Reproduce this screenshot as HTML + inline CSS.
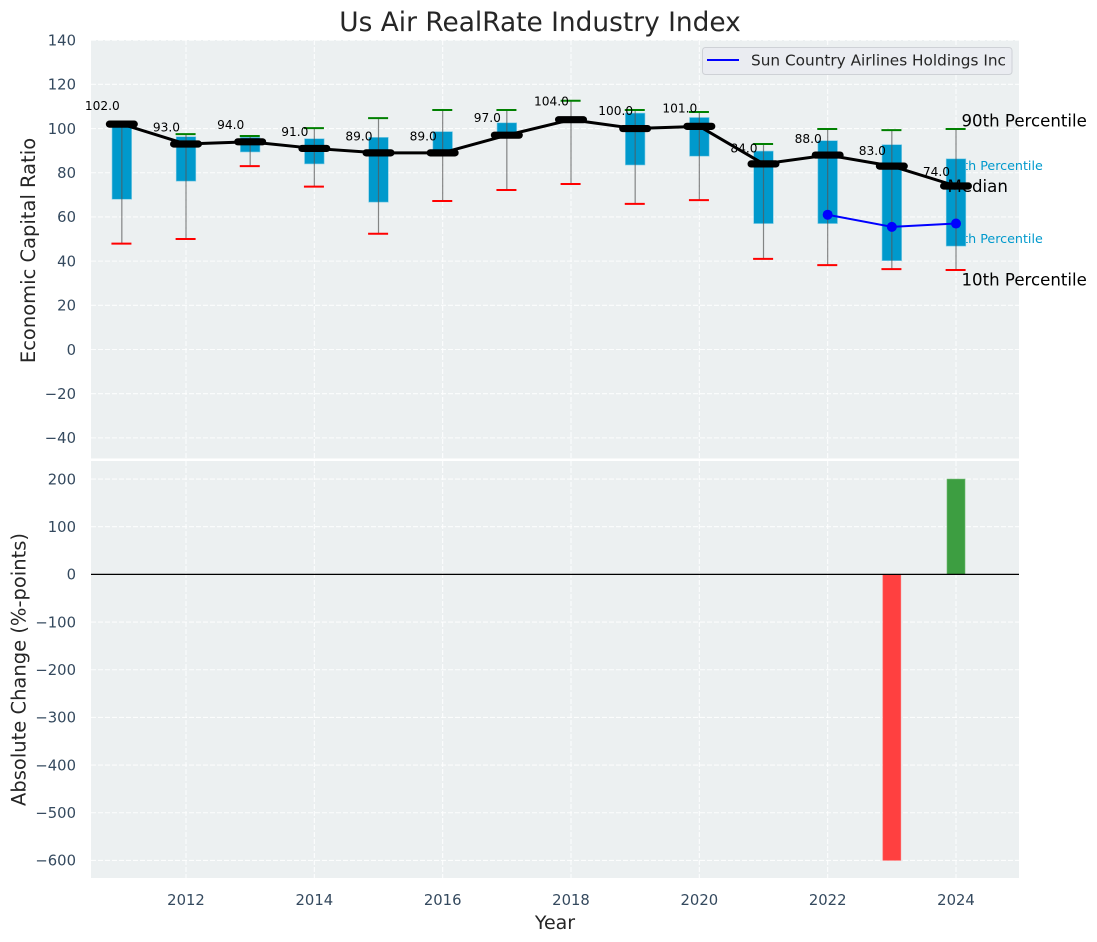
<!DOCTYPE html>
<html>
<head>
<meta charset="utf-8">
<title>Us Air RealRate Industry Index</title>
<style>
html,body{margin:0;padding:0;background:#fff;width:1097px;height:942px;overflow:hidden}
svg{display:block;font-family:"DejaVu Sans","Liberation Sans",sans-serif}
</style>
</head>
<body>
<svg id="chart" xmlns="http://www.w3.org/2000/svg" width="1097" height="942" viewBox="0 0 1097 942"></svg>
<script>
const years = [2011,2012,2013,2014,2015,2016,2017,2018,2019,2020,2021,2022,2023,2024];
const medians = [102,93,94,91,89,89,97,104,100,101,84,88,83,74];
const p75 = [102,96.3,96,95.4,96,98.6,102.6,104,107,105,89.8,94.5,92.7,86.3];
const p25 = [68,76.2,89.4,84,66.7,89,97,104,83.5,87.5,57,57,40.2,46.8];
const p90 = [102,97.5,96.6,100.2,104.7,108.4,108.4,112.6,108.4,107.5,93,99.8,99.3,99.8];
const p10 = [47.9,50,83,73.7,52.4,67.2,72.2,74.9,65.9,67.6,41,38.2,36.4,36];
const companyYears = [2022,2023,2024];
const companyValues = [61,55.5,57];
const changeYears = [2023,2024];
const changeValues = [-600,200];
const topTicks = [140,120,100,80,60,40,20,0,-20,-40];
const bottomTicks = [200,100,0,-100,-200,-300,-400,-500,-600];
const xTicks = [2012,2014,2016,2018,2020,2022,2024];

const svg = document.getElementById('chart');
const NS = 'http://www.w3.org/2000/svg';
const left = 91, right = 1019;
const topA = {y0:40, y1:458.5};
const botA = {y0:461, y1:878};
const x = v => 186 + (v - 2012) * 64.167;
const yTop = v => 349.5 - v * 2.2095;
const yBot = v => 574.4 - v * 0.4767;
const minus = v => String(v).replace('-', '\u2212');

function mk(tag, attrs, text){
  const el = document.createElementNS(NS, tag);
  for (const k in attrs) el.setAttribute(k, attrs[k]);
  if (text !== undefined) el.textContent = text;
  svg.appendChild(el);
  return el;
}
function panel(a, name){
  const el = mk('rect', {x:left, y:a.y0, width:right-left, height:a.y1-a.y0, fill:'#ecf0f1'});
  
  
}
function gridLine(x1,y1,x2,y2){
  const el = mk('line', {x1,y1,x2,y2, stroke:'#fff', 'stroke-width':1.1, 'stroke-dasharray':'5 2', 'stroke-opacity':0.85});
  
  
}

panel(topA, 'top-plot-area');
panel(botA, 'bottom-plot-area');

xTicks.forEach(t => {
  gridLine(x(t), topA.y0, x(t), topA.y1);
  gridLine(x(t), botA.y0, x(t), botA.y1);
  const el = mk('text', {x:x(t), y:905, 'text-anchor':'middle', 'font-size':14.8, fill:'#34495e'}, String(t));
  
  
});
topTicks.forEach(t => {
  gridLine(left, yTop(t), right, yTop(t));
  const el = mk('text', {x:76, y:yTop(t)+5.3, 'text-anchor':'end', 'font-size':14.8, fill:'#34495e'}, minus(t));
  
  
});
bottomTicks.forEach(t => {
  gridLine(left, yBot(t), right, yBot(t));
  const el = mk('text', {x:76, y:yBot(t)+5.3, 'text-anchor':'end', 'font-size':14.8, fill:'#34495e'}, minus(t));
  
  
});

const lastYear = years[years.length - 1];
const label75 = mk('text', {x:x(lastYear)-9, y:yTop(p75[p75.length-1])+11, 'font-size':12.7, fill:'#0099cc'}, '75th Percentile');


const label25 = mk('text', {x:x(lastYear)-9, y:yTop(p25[p25.length-1])-3, 'font-size':12.7, fill:'#0099cc'}, '25th Percentile');



years.forEach((yr, i) => {
  const cx = x(yr);
  const box = mk('rect', {x:cx-9.8, y:yTop(p75[i]), width:19.6, height:Math.max(0, yTop(p25[i])-yTop(p75[i])), fill:'#0099cc', stroke:'#7fcbe5', 'stroke-width':0.6});
  
  
  const whisk = mk('line', {x1:cx, x2:cx, y1:yTop(p90[i]), y2:yTop(p10[i]), stroke:'#555', 'stroke-opacity':0.7, 'stroke-width':1.2});
  
  
  const capHigh = mk('line', {x1:cx-10.4, x2:cx+9.6, y1:yTop(p90[i]), y2:yTop(p90[i]), stroke:'#008000', 'stroke-width':2});
  
  
  const capLow = mk('line', {x1:cx-10.4, x2:cx+9.6, y1:yTop(p10[i]), y2:yTop(p10[i]), stroke:'#ff0000', 'stroke-width':2});
  
  
});

const medianLine = mk('polyline', {points:years.map((yr,i) => x(yr)+','+yTop(medians[i])).join(' '), fill:'none', stroke:'#000', 'stroke-width':3, 'stroke-linejoin':'round'});



years.forEach((yr, i) => {
  const cx = x(yr), cy = yTop(medians[i]);
  const bar = mk('line', {x1:cx-12.4, x2:cx+12.4, y1:cy, y2:cy, stroke:'#000', 'stroke-width':7.2, 'stroke-linecap':'round'});
  
  
  const lift = 14 - (102 - medians[i]) * 0.14;
  const lab = mk('text', {x:cx-19.5, y:cy-lift, 'text-anchor':'middle', 'font-size':12.2, fill:'#000'}, medians[i].toFixed(1));
  
  
});

const companyLine = mk('polyline', {points:companyYears.map((yr,i) => x(yr)+','+yTop(companyValues[i])).join(' '), fill:'none', stroke:'#0000ff', 'stroke-width':2});


companyYears.forEach((yr, i) => {
  const dot = mk('circle', {cx:x(yr), cy:yTop(companyValues[i]), r:5, fill:'#0000ff'});
  
  
});

const n = years.length - 1;
const label90 = mk('text', {x:x(lastYear)+5.5, y:yTop(p90[n])-2.5, 'font-size':16.6, fill:'#000'}, '90th Percentile');


const labelMed = mk('text', {x:x(lastYear)-8.5, y:yTop(medians[n])+6, 'font-size':16.6, fill:'#000'}, 'Median');


const label10 = mk('text', {x:x(lastYear)+5.5, y:yTop(p10[n])+15.5, 'font-size':16.6, fill:'#000'}, '10th Percentile');



changeYears.forEach((yr, i) => {
  const v = changeValues[i];
  const y0 = Math.min(yBot(0), yBot(v));
  const h = Math.abs(yBot(v) - yBot(0));
  const bar = mk('rect', {x:x(yr)-9, y:y0, width:18, height:h, fill:v < 0 ? '#ff4040' : '#3d9e41', stroke:v < 0 ? '#ff7070' : '#6db870', 'stroke-width':0.6});
  
  
});
const zero = mk('line', {x1:left, x2:right, y1:yBot(0), y2:yBot(0), stroke:'#000', 'stroke-width':1.2});



const legendBox = mk('rect', {x:702.5, y:47.5, width:309.5, height:27, rx:3, fill:'#eaecf1', stroke:'#ced1d6', 'stroke-width':1});


const legendLine = mk('line', {x1:707, x2:739, y1:60, y2:60, stroke:'#0000ff', 'stroke-width':2});


const legendText = mk('text', {x:751, y:65.5, 'font-size':15.3, fill:'#262626'}, 'Sun Country Airlines Holdings Inc');



const title = mk('text', {x:540, y:31, 'text-anchor':'middle', 'font-size':26.4, fill:'#262626'}, 'Us Air RealRate Industry Index');


const yTitleTop = mk('text', {'transform':'translate(35,250.5) rotate(-90)', 'text-anchor':'middle', 'font-size':19.5, fill:'#262626'}, 'Economic Capital Ratio');


const yTitleBot = mk('text', {'transform':'translate(25.5,669.5) rotate(-90)', 'text-anchor':'middle', 'font-size':19.5, fill:'#262626'}, 'Absolute Change (%-points)');


const xTitle = mk('text', {x:555, y:929, 'text-anchor':'middle', 'font-size':19, fill:'#262626'}, 'Year');


</script>
</body>
</html>
